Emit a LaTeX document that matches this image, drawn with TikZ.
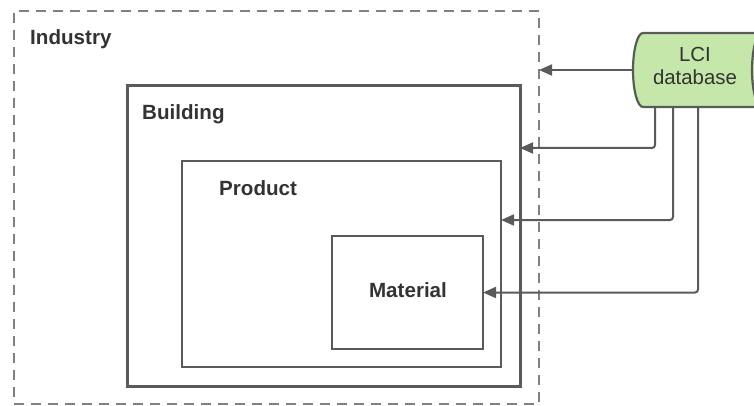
\documentclass[tikz,border=0pt]{standalone}
\usepackage{fontspec}
\setmainfont{Liberation Sans}
\usetikzlibrary{arrows.meta,calc}
\definecolor{linegray}{HTML}{5A5A5A}
\definecolor{dashgray}{HTML}{808080}
\definecolor{txtgray}{HTML}{333333}
\definecolor{dbgreen}{HTML}{C5E7A9}
\tikzset{
  boxa/.style={draw=linegray, rectangle, inner sep=0pt, outer sep=0pt},
  lbl/.style={text=txtgray, font=\fontsize{20.6}{24}\selectfont\bfseries, inner sep=0pt},
  arr/.style={draw=linegray, line width=2pt, -{Triangle[length=13pt,width=11pt]}, rounded corners=3pt},
}
\begin{document}
\begin{tikzpicture}[x=1pt,y=-1pt]
\useasboundingbox (0,0) rectangle (754,406);
% boxes
\node[boxa, draw=dashgray, line width=1.8pt, dash pattern=on 10pt off 7pt, minimum width=525pt, minimum height=393pt] (industry) at (276.5,207.5) {};
\node[boxa, line width=3pt, minimum width=393pt, minimum height=300pt] (building) at (323.5,236) {};
\node[boxa, line width=2.6pt, minimum width=319pt, minimum height=206pt] (product) at (341.5,264) {};
\node[boxa, line width=2.6pt, minimum width=151pt, minimum height=113pt] (material) at (407.5,292.5) {};
% labels
\node[lbl, anchor=base west] (tind) at (30,45) {Industry};
\node[lbl, anchor=base west] (tbld) at (142,120) {Building};
\node[lbl, anchor=base west] (tprd) at (219,195) {Product};
\node[lbl, anchor=base] (tmat) at (408,297) {Material};
% database cylinder
\begin{scope}
\clip (0,0) rectangle (754,406);
\filldraw[fill=dbgreen, draw=linegray, line width=2.2pt]
  (643,33) arc[start angle=90, end angle=270, x radius=10pt, y radius=37pt]
  -- (762,107) arc[start angle=-90, end angle=90, x radius=10pt, y radius=37pt] -- cycle;
\draw[linegray, line width=2.2pt] (762,33) arc[start angle=90, end angle=270, x radius=10pt, y radius=37pt];
\end{scope}
\node[text=txtgray, font=\fontsize{20.4}{23.5}\selectfont, align=center, inner sep=0pt, anchor=base] (db) at (695,85) {LCI\\database};
\coordinate (dbL) at (633,70);
\coordinate (db1) at (655,107);
\coordinate (db2) at (673,107);
\coordinate (db3) at (698,107);
% connectors
\draw[arr] (dbL) -- (industry.east |- dbL);
\draw[arr] (db1) |- ([yshift=88pt]building.east);
\draw[arr] (db2) |- ([yshift=44pt]product.east);
\draw[arr] (db3) |- (material.east);
\end{tikzpicture}
\end{document}
